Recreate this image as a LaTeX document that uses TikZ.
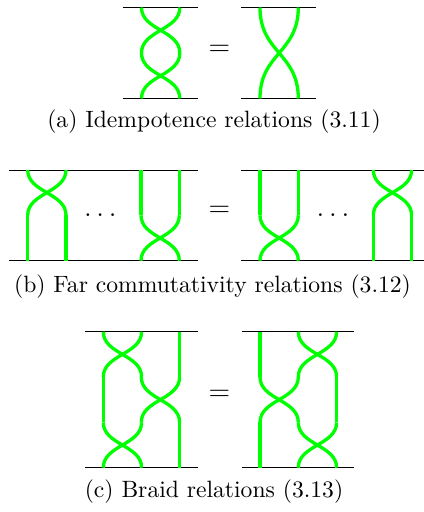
\documentclass[tikz,border=0pt]{standalone}
\usepackage{amsmath,amssymb}
\usepackage{xcolor}
\usepackage{tikz}
\definecolor{strandgreen}{RGB}{0,255,0}
\tikzstyle{strand} = [line width=1.4pt, draw=strandgreen]
\tikzstyle{rule} = [line width=0.4pt, draw=black]
\tikzstyle{relsign} = [anchor=base, font=\large, inner sep=0pt]
\tikzstyle{caption} = [anchor=base, inner sep=0pt]
% crossing of strands #1 and #1+38.3 from height #2 down to #3
\newcommand{\brcross}[3]{
  \draw [strand] (#1,#2) .. controls (#1,{(#2+#3)/2}) and ({#1+38.3},{(#2+#3)/2}) .. ({#1+38.3},#3);
  \draw [strand] ({#1+38.3},#2) .. controls ({#1+38.3},{(#2+#3)/2}) and (#1,{(#2+#3)/2}) .. (#1,#3);
}
% straight strand
\newcommand{\brline}[3]{\draw [strand] (#1,#2) -- (#1,#3);}

\begin{document}
\begin{tikzpicture}[x=0.4235pt, y=-0.4235pt]
\useasboundingbox (0,0) rectangle (424,512);

% (a) idempotence
\draw [rule] (122.7,7.5) -- (198.3,7.5);
\draw [rule] (122.7,98.5) -- (198.3,98.5);
\draw [rule] (241,7.5) -- (316,7.5);
\draw [rule] (241,98.5) -- (316,98.5);
\brcross{141.5}{7.5}{53}
\brcross{141.5}{53}{98.5}
\brcross{260}{7.5}{98.5}
\node (eqA) [relsign] at (219.5,55) {$=$};
\node (capA) [caption] at (214,127) {(a) Idempotence relations (3.11)};

% (b) far commutativity
\draw [rule] (9,170) -- (198.3,170);
\draw [rule] (9,260.7) -- (198.3,260.7);
\draw [rule] (241.3,170) -- (424,170);
\draw [rule] (241.3,260.7) -- (424,260.7);
\brcross{27.7}{170}{215.3}
\brline{27.7}{215.3}{260.7}
\brline{66}{215.3}{260.7}
\brline{141}{170}{215.3}
\brline{179.3}{170}{215.3}
\brcross{141}{215.3}{260.7}
\brline{260}{170}{215.3}
\brline{298.3}{170}{215.3}
\brcross{260}{215.3}{260.7}
\brcross{373.3}{170}{215.3}
\brline{373.3}{215.3}{260.7}
\brline{411.6}{215.3}{260.7}
\node (dotsL) [relsign] at (100.3,216) {$\ldots$};
\node (dotsR) [relsign] at (333,216) {$\ldots$};
\node (eqB) [relsign] at (219.5,216) {$=$};
\node (capB) [caption] at (212.5,292.4) {(b) Far commutativity relations (3.12)};

% (c) braid
\draw [rule] (85,331.7) -- (197.7,331.7);
\draw [rule] (85,467.7) -- (197.7,467.7);
\draw [rule] (241.7,331.7) -- (354.3,331.7);
\draw [rule] (241.7,467.7) -- (354.3,467.7);
\brcross{103.3}{331.7}{377}
\brline{179.6}{331.7}{377}
\brline{103.3}{377}{422.4}
\brcross{141.3}{377}{422.4}
\brcross{103.3}{422.4}{467.7}
\brline{179.6}{422.4}{467.7}
\brline{260}{331.7}{377}
\brcross{298.3}{331.7}{377}
\brcross{260}{377}{422.4}
\brline{336.6}{377}{422.4}
\brline{260}{422.4}{467.7}
\brcross{298.3}{422.4}{467.7}
\node (eqC) [relsign] at (219.5,400) {$=$};
\node (capC) [caption] at (214,497.4) {(c) Braid relations (3.13)};
\end{tikzpicture}
\end{document}
